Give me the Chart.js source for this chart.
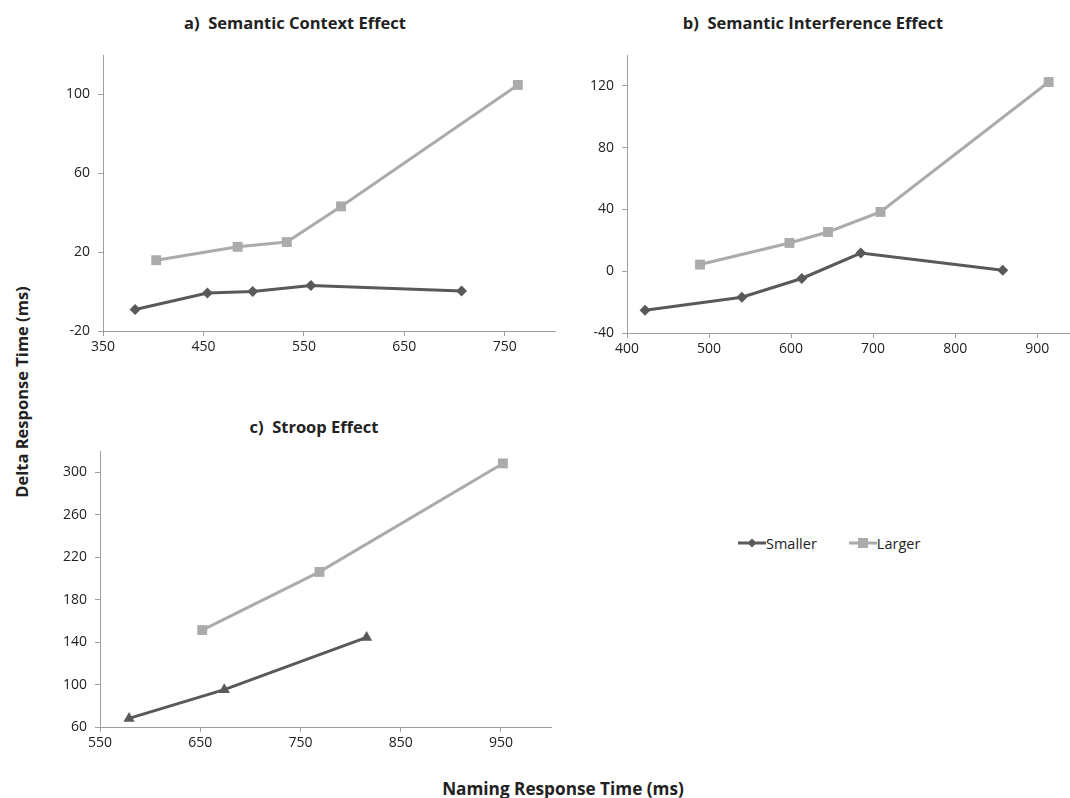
<!DOCTYPE html>
<html>
<head>
<meta charset="utf-8">
<script src="https://cdn.jsdelivr.net/npm/chart.js@4/dist/chart.umd.min.js"></script>
<style>
  html, body { margin: 0; padding: 0; background: #fff; }
  body { width: 1070px; height: 798px; position: relative; overflow: hidden;
         font-family: "Open Sans", "Liberation Sans", sans-serif; color: #222; }
  canvas { position: absolute; }
  .title { position: absolute; font-weight: bold; font-size: 16.5px; white-space: pre;
           transform: translate(-50%, -50%); }
  .axis-label { position: absolute; font-weight: bold; white-space: pre; }
  #legend { position: absolute; left: 738px; top: 532px; display: flex; align-items: center;
            font-size: 14.5px; height: 22px; }
  #legend .item { display: flex; align-items: center; margin-right: 32px; }
  #legend svg { display: block; }
</style>
</head>
<body>
<div class="title" id="titleA" style="left:295px; top:22px;"></div>
<div class="title" id="titleB" style="left:813px; top:22px;"></div>
<div class="title" id="titleC" style="left:314px; top:426px;"></div>
<div class="axis-label" id="yLabel" style="left:21px; top:392px; font-size:16.5px; transform: translate(-50%, -50%) rotate(-90deg);"></div>
<div class="axis-label" id="xLabel" style="left:563px; top:788px; font-size:17.2px; transform: translate(-50%, -50%);"></div>
<div id="legend"></div>

<canvas id="panelA" width="510" height="311" style="left:53px; top:48px;"></canvas>
<canvas id="panelB" width="500" height="313" style="left:577px; top:48px;"></canvas>
<canvas id="panelC" width="509" height="311" style="left:50px; top:444px;"></canvas>

<script>
// Series names and colours
const seriesNames = ['Smaller', 'Larger'];
const seriesColors = ['#595959', '#ababab'];

// a) Semantic context effect
const contextSmallerX = [382, 454, 499, 557, 707];
const contextSmallerY = [-9.1, -0.7, 0.0, 3.1, 0.3];
const contextLargerX = [403, 484, 533, 587, 763];
const contextLargerY = [15.9, 22.7, 25.1, 43.2, 104.8];
const contextXTicks = [350, 450, 550, 650, 750];
const contextYTicks = [-20, 20, 60, 100];

// b) Semantic interference effect
const interferenceSmallerX = [422, 540, 613, 685, 858];
const interferenceSmallerY = [-25.2, -16.8, -4.7, 11.8, 0.6];
const interferenceLargerX = [489, 598, 645, 709, 914];
const interferenceLargerY = [4.3, 18.3, 25.4, 38.4, 122.5];
const interferenceXTicks = [400, 500, 600, 700, 800, 900];
const interferenceYTicks = [-40, 0, 40, 80, 120];

// c) Stroop effect
const stroopSmallerX = [579, 674, 816];
const stroopSmallerY = [68.1, 95.2, 144.4];
const stroopLargerX = [652, 769, 952];
const stroopLargerY = [151.3, 206.1, 308.3];
const stroopXTicks = [550, 650, 750, 850, 950];
const stroopYTicks = [60, 100, 140, 180, 220, 260, 300];

// Text
const panelTitles = ['a)  Semantic Context Effect', 'b)  Semantic Interference Effect', 'c)  Stroop Effect'];
const yAxisTitle = 'Delta Response Time (ms)';
const xAxisTitle = 'Naming Response Time (ms)';

document.getElementById('titleA').textContent = panelTitles[0];
document.getElementById('titleB').textContent = panelTitles[1];
document.getElementById('titleC').textContent = panelTitles[2];
document.getElementById('yLabel').textContent = yAxisTitle;
document.getElementById('xLabel').textContent = xAxisTitle;

const axisColor = '#a0a0a0';
const tickFont = { family: '"Open Sans", "Liberation Sans", sans-serif', size: 14 };

function pairs(xs, ys) {
  return xs.map((x, i) => ({ x: x, y: ys[i] }));
}

// Fixed-size axis boxes so every plot area sits at a known place on its canvas
function axis(min, max, tickValues, isX) {
  return {
    type: 'linear',
    min: min,
    max: max,
    afterBuildTicks: s => { s.ticks = tickValues.map(v => ({ value: v })); },
    afterFit: s => {
      if (isX) { s.height = 28; } else { s.width = 50; }
      s.paddingTop = 0; s.paddingBottom = 0; s.paddingLeft = 0; s.paddingRight = 0;
    },
    grid: { drawOnChartArea: false, drawTicks: true, tickLength: 5, color: axisColor, lineWidth: 1 },
    border: { display: true, color: axisColor, width: 1 },
    ticks: { font: tickFont, color: '#222', padding: isX ? 3 : 8, maxRotation: 0, autoSkip: false }
  };
}

function makePanel(id, smallerX, smallerY, largerX, largerY, xr, yr, xTicks, yTicks, smallerMarker, padRight) {
  const ctx = document.getElementById(id);
  return new Chart(ctx, {
    type: 'scatter',
    data: {
      datasets: [
        {
          label: seriesNames[1],
          data: pairs(largerX, largerY),
          showLine: true,
          borderColor: seriesColors[1],
          backgroundColor: seriesColors[1],
          borderWidth: 3,
          pointStyle: 'rect',
          pointRadius: 7,
          pointHoverRadius: 7,
          pointBorderWidth: 0
        },
        {
          label: seriesNames[0],
          data: pairs(smallerX, smallerY),
          showLine: true,
          borderColor: seriesColors[0],
          backgroundColor: seriesColors[0],
          borderWidth: 3,
          pointStyle: smallerMarker,
          pointRadius: smallerMarker === 'triangle' ? 6.5 : 5.5,
          pointHoverRadius: 6,
          pointBorderWidth: 0
        }
      ]
    },
    options: {
      responsive: false,
      animation: false,
      devicePixelRatio: 1,
      layout: { padding: { top: 5, right: padRight, bottom: 0, left: 0 } },
      plugins: { legend: { display: false }, tooltip: { enabled: false } },
      scales: {
        x: axis(xr[0], xr[1], xTicks, true),
        y: axis(yr[0], yr[1], yTicks, false)
      }
    }
  });
}

makePanel('panelA', contextSmallerX, contextSmallerY, contextLargerX, contextLargerY,
  [350, 800], [-20, 120], contextXTicks, contextYTicks, 'rectRot', 8);
makePanel('panelB', interferenceSmallerX, interferenceSmallerY, interferenceLargerX, interferenceLargerY,
  [400, 940], [-40, 140], interferenceXTicks, interferenceYTicks, 'rectRot', 1);
makePanel('panelC', stroopSmallerX, stroopSmallerY, stroopLargerX, stroopLargerY,
  [550, 1000], [60, 320], stroopXTicks, stroopYTicks, 'triangle', 8);

// Shared legend
const legend = document.getElementById('legend');
seriesNames.forEach((name, i) => {
  const item = document.createElement('div');
  item.className = 'item';
  const svgNS = 'http://www.w3.org/2000/svg';
  const svg = document.createElementNS(svgNS, 'svg');
  svg.setAttribute('width', '28');
  svg.setAttribute('height', '12');
  const line = document.createElementNS(svgNS, 'line');
  line.setAttribute('x1', '0'); line.setAttribute('x2', '28');
  line.setAttribute('y1', '6'); line.setAttribute('y2', '6');
  line.setAttribute('stroke', seriesColors[i]);
  line.setAttribute('stroke-width', '3');
  svg.appendChild(line);
  let marker;
  if (i === 0) {
    marker = document.createElementNS(svgNS, 'polygon');
    marker.setAttribute('points', '14,1.5 18.5,6 14,10.5 9.5,6');
  } else {
    marker = document.createElementNS(svgNS, 'rect');
    marker.setAttribute('x', '9'); marker.setAttribute('y', '1');
    marker.setAttribute('width', '10'); marker.setAttribute('height', '10');
  }
  marker.setAttribute('fill', seriesColors[i]);
  svg.appendChild(marker);
  const label = document.createElement('span');
  label.textContent = name;
  item.appendChild(svg);
  item.appendChild(label);
  legend.appendChild(item);
});
</script>
</body>
</html>
